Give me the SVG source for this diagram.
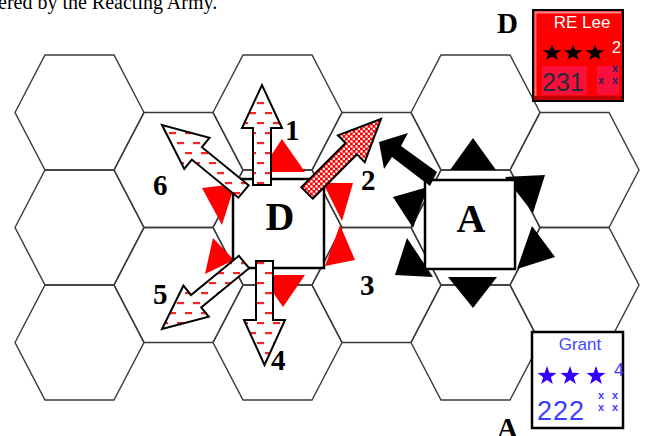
<svg xmlns="http://www.w3.org/2000/svg" xmlns:xlink="http://www.w3.org/1999/xlink" width="647" height="436" viewBox="0 0 647 436">
<style>
.hex{fill:none;stroke:#3a3a3a;stroke-width:1.4}
.sq{fill:#fff;stroke:#000;stroke-width:2.5}
.arr{stroke:#000;stroke-width:2;stroke-linejoin:miter}
.lbl{font-family:"Liberation Serif","Times New Roman",serif;font-weight:bold;font-size:29px;fill:#000}
.big{font-family:"Liberation Serif","Times New Roman",serif;font-weight:bold;font-size:40px;fill:#000;text-anchor:middle}
.zr{fill:#ff0000}
.zb{fill:#000}
.cs{font-family:"Liberation Sans",Arial,sans-serif}
.xm{font-family:"Liberation Sans",Arial,sans-serif;font-size:11px;font-weight:bold;text-anchor:middle}
</style>
<defs>
<polygon id="hx" class="hex" points="-30,57.5 0,0 69,0 99,57.5 69,115 0,115"/>
<path id="star" d="M0,-10 L2.351,-3.236 L9.511,-3.09 L3.804,1.236 L5.878,8.09 L0,4 L-5.878,8.09 L-3.804,1.236 L-9.511,-3.09 L-2.351,-3.236 Z"/>
<pattern id="dash" width="16" height="20" patternUnits="userSpaceOnUse">
<rect width="16" height="20" fill="#fff"/>
<rect x="1" y="2" width="7" height="2.2" fill="#ff2020"/>
<rect x="9" y="12" width="7" height="2.2" fill="#ff2020"/>
</pattern>
<pattern id="chk" width="5" height="5" patternUnits="userSpaceOnUse">
<rect width="5" height="5" fill="#ff0000"/>
<rect x="0.3" y="0.3" width="2.3" height="2.3" fill="#fff"/>
<rect x="2.8" y="2.8" width="2.3" height="2.3" fill="#fff"/>
</pattern>
</defs>
<rect width="647" height="436" fill="#fff"/>
<text x="-2" y="9" font-family="Liberation Serif,Times New Roman,serif" font-size="20" fill="#000">ered by the Reacting Army.</text>

<g id="hexgrid">
<use xlink:href="#hx" x="45" y="55"/><use xlink:href="#hx" x="45" y="170"/><use xlink:href="#hx" x="45" y="285"/>
<use xlink:href="#hx" x="144" y="112.5"/><use xlink:href="#hx" x="144" y="227.5"/>
<use xlink:href="#hx" x="243" y="55"/><use xlink:href="#hx" x="243" y="170"/><use xlink:href="#hx" x="243" y="285"/>
<use xlink:href="#hx" x="342" y="112.5"/><use xlink:href="#hx" x="342" y="227.5"/>
<use xlink:href="#hx" x="441" y="55"/><use xlink:href="#hx" x="441" y="170"/><use xlink:href="#hx" x="441" y="285"/>
<use xlink:href="#hx" x="540" y="112.5"/><use xlink:href="#hx" x="540" y="227.5"/>
</g>

<g id="zoc-D">
<polygon class="zr" points="260,172 305,172 282,139"/>
<polygon class="zr" points="323,183 353,183 342,221"/>
<polygon class="zr" points="340,225 325,266 355,260"/>
<polygon class="zr" points="261,275 305,275 283,307"/>
<polygon class="zr" points="213,238 205,274 234,260"/>
<polygon class="zr" points="202,188 235,184 222,225"/>
</g>
<g id="zoc-A">
<polygon class="zb" points="450,170 496,170 473,138"/>
<polygon class="zb" points="448,277 497,277 473,308"/>
<polygon class="zb" points="505,177 545,175 533,213"/>
<polygon class="zb" points="532,226 555,257 517,269"/>
<polygon class="zb" points="393,197 428,187 413,228"/>
<polygon class="zb" points="407,238 395,275 433,277"/>
</g>

<g id="node-D">
<rect class="sq" x="233" y="179" width="91" height="89"/>
<text class="big" x="280" y="230">D</text>
</g>
<g id="node-A">
<rect class="sq" x="425" y="180" width="90" height="89"/>
<text class="big" x="471" y="232">A</text>
</g>

<g id="connectors">
<polygon class="arr" fill="url(#dash)" points="271,185 271,128 282,128 262,85 242,128 253,128 253,185"/>
<polygon class="arr" fill="url(#chk)" points="312.7,198.7 357,154.4 364.7,162.1 381,119 337.9,135.3 345.6,143 301.3,187.3"/>
<polygon class="arr" fill="url(#dash)" points="256,261 256,320 244,320 264.5,365 285,320 273,320 273,261"/>
<polygon class="arr" fill="url(#dash)" points="238.9,255.8 191,295 183.4,285.7 162,329 208.8,316.7 201.2,307.4 249.1,268.2"/>
<polygon class="arr" fill="url(#dash)" points="248.6,185.3 201.9,147.2 209.5,137.9 162,125 184.3,168.9 191.8,159.6 238.4,197.7"/>
<polygon fill="#000" points="379,142 408,133 401,146 437,172 430,186 392,157 384,169"/>
</g>

<g id="labels">
<text class="lbl" x="285" y="140">1</text>
<text class="lbl" x="361" y="190">2</text>
<text class="lbl" x="360" y="295">3</text>
<text class="lbl" x="271" y="370">4</text>
<text class="lbl" x="153" y="304">5</text>
<text class="lbl" x="153" y="195">6</text>
<text class="lbl" x="497" y="33">D</text>
<text class="lbl" x="497" y="438">A</text>
</g>

<g id="counter-lee">
<rect x="533" y="10" width="90" height="91" fill="#ff0000" stroke="#000" stroke-width="2"/>
<rect x="535" y="11.5" width="86" height="2" fill="#ff8a8a"/>
<rect x="534.5" y="11.5" width="2" height="85" fill="#ff6a6a"/>
<rect x="534" y="96" width="88" height="4" fill="#c00000"/>
<rect x="542" y="66" width="45" height="29" fill="#f8103a"/>
<rect x="597" y="66" width="22" height="29" fill="#f8103a"/>
<text class="cs" x="582" y="28" font-size="17" fill="#fff" text-anchor="middle">RE Lee</text>
<use xlink:href="#star" transform="translate(552,53) scale(1,0.85)" fill="#000"/>
<use xlink:href="#star" transform="translate(573,53) scale(1,0.85)" fill="#000"/>
<use xlink:href="#star" transform="translate(595,53) scale(1,0.85)" fill="#000"/>
<text class="cs" x="612" y="53" font-size="16" fill="#fff">2</text>
<text class="cs" x="542" y="91" font-size="25" fill="#2a2a3a">231</text>
<text class="xm" x="615" y="72" fill="#202060">x</text>
<text class="xm" x="601" y="84" fill="#202060">x</text>
<text class="xm" x="615" y="84" fill="#202060">x</text>
</g>

<g id="counter-grant">
<rect x="532" y="332" width="91" height="96" fill="#fff" stroke="#000" stroke-width="2.5"/>
<text class="cs" x="580" y="350" font-size="17" fill="#4646ff" text-anchor="middle">Grant</text>
<use xlink:href="#star" transform="translate(547,376)" fill="#3300ff"/>
<use xlink:href="#star" transform="translate(570,376)" fill="#3300ff"/>
<use xlink:href="#star" transform="translate(596,376)" fill="#3300ff"/>
<text class="cs" x="614" y="376" font-size="18" fill="#3c3cff">4</text>
<text class="cs" x="537" y="420" font-size="27" fill="#3c3cff" letter-spacing="1">222</text>
<text class="xm" x="601" y="399" fill="#3c3cff">x</text>
<text class="xm" x="615" y="399" fill="#3c3cff">x</text>
<text class="xm" x="601" y="411" fill="#3c3cff">x</text>
<text class="xm" x="615" y="411" fill="#3c3cff">x</text>
</g>
</svg>
